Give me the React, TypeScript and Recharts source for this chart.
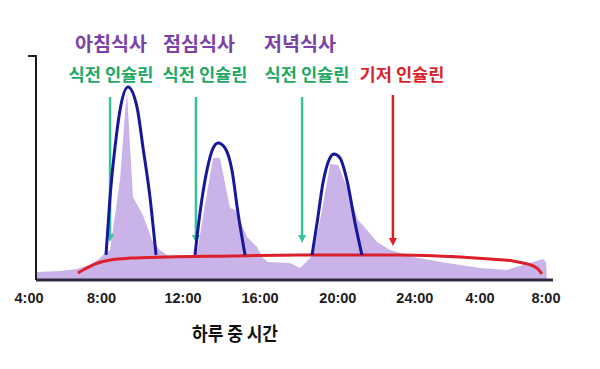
import React from 'react';
import { ComposedChart, Area, Line, XAxis, YAxis, ReferenceLine } from 'recharts';

// x values are clock hours (4 = 4:00, 28 = next day 4:00), y values are relative level (0-100)
const tickHours = [4, 7.93, 12.34, 16.51, 20.73, 24.9, 28.43, 32];
const tickLabels = ['4:00', '8:00', '12:00', '16:00', '20:00', '24:00', '4:00', '8:00'];

const profileHours = [4.38, 5.68, 6.6, 7.41, 7.85, 8.12, 8.39, 8.93, 9.2, 9.31, 9.63, 10.17, 10.66, 11.09, 11.47, 11.91, 12.72, 13.1, 13.53, 13.97, 14.34, 14.89, 15.16, 15.81, 16.35, 16.62, 16.94, 18.14, 18.68, 19.22, 19.38, 19.87, 20.31, 20.74, 21.22, 21.82, 22.31, 22.85, 23.55, 24.47, 24.8, 26.64, 28.43, 29.89, 30.75, 31.84, 32.0, 32.05];
const profileLevel = [3.6, 4.0, 4.9, 7.1, 9.8, 12.1, 13.4, 44.6, 74.6, 83.5, 37.1, 29.0, 17.9, 13.4, 11.2, 10.3, 10.3, 12.1, 33.5, 54.5, 54.5, 32.1, 31.3, 19.2, 14.7, 10.3, 8.0, 7.6, 5.4, 9.8, 11.2, 31.3, 51.8, 51.3, 41.5, 26.8, 22.3, 17.0, 13.4, 11.2, 10.3, 7.6, 5.4, 4.5, 6.7, 9.4, 8.0, 0];

const breakfastHours = [8.17, 8.39, 8.66, 8.93, 9.36, 9.85, 10.17, 10.55, 10.88];
const breakfastLevel = [11.2, 37.1, 59.4, 75.9, 86.2, 77.2, 59.4, 37.1, 11.2];
const lunchHours = [12.99, 13.26, 13.64, 13.97, 14.24, 14.62, 14.99, 15.32, 15.7];
const lunchLevel = [11.2, 29.9, 49.1, 58.9, 61.2, 58.9, 49.1, 29.9, 11.2];
const dinnerHours = [19.33, 19.6, 19.92, 20.3, 20.52, 20.84, 21.22, 21.66, 22.03];
const dinnerLevel = [11.2, 25.4, 43.3, 54.5, 56.3, 54.5, 44.6, 25.4, 11.2];

const basalHours = [6.65, 7.03, 7.57, 8.39, 9.47, 11.47, 14.89, 18.68, 24.09, 27.34, 28.97, 30.21, 30.75, 31.3, 31.57, 31.78];
const basalLevel = [3.1, 4.9, 7.1, 8.9, 9.8, 10.3, 10.7, 11.2, 11.2, 10.3, 9.4, 8.5, 7.6, 6.3, 4.9, 2.7];

const mealLabels = ['아침식사', '점심식사', '저녁식사'];
const insulinLabels = ['식전 인슐린', '식전 인슐린', '식전 인슐린', '기저 인슐린'];
const arrowHours = [8.39, 13.04, 18.79, 23.71];
const arrowTop = [81.7, 81.7, 81.7, 82.6];
const arrowTip = [17.0, 16.5, 16.5, 15.2];
const xAxisTitle = '하루 중 시간';

const zip = (xs: number[], ys: number[]) => xs.map((x, i) => ({ x, y: ys[i] }));
const profileData = zip(profileHours, profileLevel);
const breakfastData = zip(breakfastHours, breakfastLevel);
const lunchData = zip(lunchHours, lunchLevel);
const dinnerData = zip(dinnerHours, dinnerLevel);
const basalData = zip(basalHours, basalLevel);

const GREEN_ARROW = '#36c49c';
const GREEN_TEXT = '#22a862';
const RED = '#dc1f2b';
const PURPLE_TEXT = '#7a42a8';
const BLUE = '#17179c';
const KR = "'Noto Sans CJK KR', 'Noto Sans', sans-serif";

const arrowColors = [GREEN_ARROW, GREEN_ARROW, GREEN_ARROW, RED];
const insulinColors = [GREEN_TEXT, GREEN_TEXT, GREEN_TEXT, RED];
const mealLabelX = [111, 199, 300];
const insulinLabelX = [111, 205, 307, 402];

const ArrowShape = (color: string) => (p: any) => {
  const x = p.x1;
  const top = Math.min(p.y1, p.y2);
  const tip = Math.max(p.y1, p.y2);
  return (
    <g>
      <line x1={x} y1={top} x2={x} y2={tip - 6} stroke={color} strokeWidth={2.5} />
      <polygon points={`${x - 4},${tip - 8} ${x + 4},${tip - 8} ${x},${tip}`} fill={color} />
    </g>
  );
};

const Tick = (props: any) => {
  const { x, y, payload } = props;
  const idx = tickHours.indexOf(payload.value);
  return (
    <text x={x} y={y + 23} textAnchor="middle" fontFamily="'Liberation Sans', Arial, sans-serif" fontWeight="bold" fontSize={14.5} fill="#1c1c1c">
      {tickLabels[idx]}
    </text>
  );
};

export default function App() {
  return (
    <div style={{ position: 'absolute', left: 0, top: 0, background: '#fff' }}>
      <ComposedChart width={600} height={369} margin={{ top: 56, right: 47, bottom: 59, left: 29 }}>
        <XAxis
          type="number"
          dataKey="x"
          domain={[4, 32.38]}
          ticks={tickHours}
          interval={0}
          axisLine={false}
          tickLine={false}
          tickSize={0}
          tickMargin={0}
          height={30}
          tick={<Tick />}
          allowDataOverflow
        />
        <YAxis type="number" domain={[0, 100]} hide allowDataOverflow />
        <Area data={profileData} dataKey="y" type="linear" fill="#cab3e9" fillOpacity={1} stroke="none" baseValue={0} isAnimationActive={false} />
        {arrowHours.map((h, i) => (
          <ReferenceLine
            key={'a' + i}
            segment={[{ x: h, y: arrowTop[i] }, { x: h, y: arrowTip[i] }]}
            ifOverflow="visible"
            shape={ArrowShape(arrowColors[i])}
          />
        ))}
        <Line data={basalData} dataKey="y" type="monotone" stroke={RED} strokeWidth={3} dot={false} isAnimationActive={false} />
        <Line data={breakfastData} dataKey="y" type="monotone" stroke={BLUE} strokeWidth={3} dot={false} isAnimationActive={false} />
        <Line data={lunchData} dataKey="y" type="monotone" stroke={BLUE} strokeWidth={3} dot={false} isAnimationActive={false} />
        <Line data={dinnerData} dataKey="y" type="monotone" stroke={BLUE} strokeWidth={3} dot={false} isAnimationActive={false} />
        <ReferenceLine segment={[{ x: 4.38, y: 0 }, { x: 32.38, y: 0 }]} stroke="#2e2b3c" strokeWidth={3} ifOverflow="visible" />
        <ReferenceLine segment={[{ x: 4.38, y: 0 }, { x: 4.38, y: 100 }]} stroke="#1c1c1c" strokeWidth={2} ifOverflow="visible" />
        <ReferenceLine segment={[{ x: 3.95, y: 100 }, { x: 4.43, y: 100 }]} stroke="#1c1c1c" strokeWidth={2} ifOverflow="visible" />
        {mealLabels.map((t, i) => (
          <text key={'m' + i} x={mealLabelX[i]} y={51} textAnchor="middle" fontFamily={KR} fontWeight="bold" fontSize={19} fill={PURPLE_TEXT} textLength={72} lengthAdjust="spacingAndGlyphs">
            {t}
          </text>
        ))}
        {insulinLabels.map((t, i) => (
          <text key={'i' + i} x={insulinLabelX[i]} y={81} textAnchor="middle" fontFamily={KR} fontWeight="bold" fontSize={17} fill={insulinColors[i]} textLength={85} lengthAdjust="spacingAndGlyphs">
            {t}
          </text>
        ))}
        <text x={235} y={341} textAnchor="middle" fontFamily={KR} fontWeight="bold" fontSize={19} fill="#111" textLength={86} lengthAdjust="spacingAndGlyphs">
          {xAxisTitle}
        </text>
      </ComposedChart>
    </div>
  );
}
